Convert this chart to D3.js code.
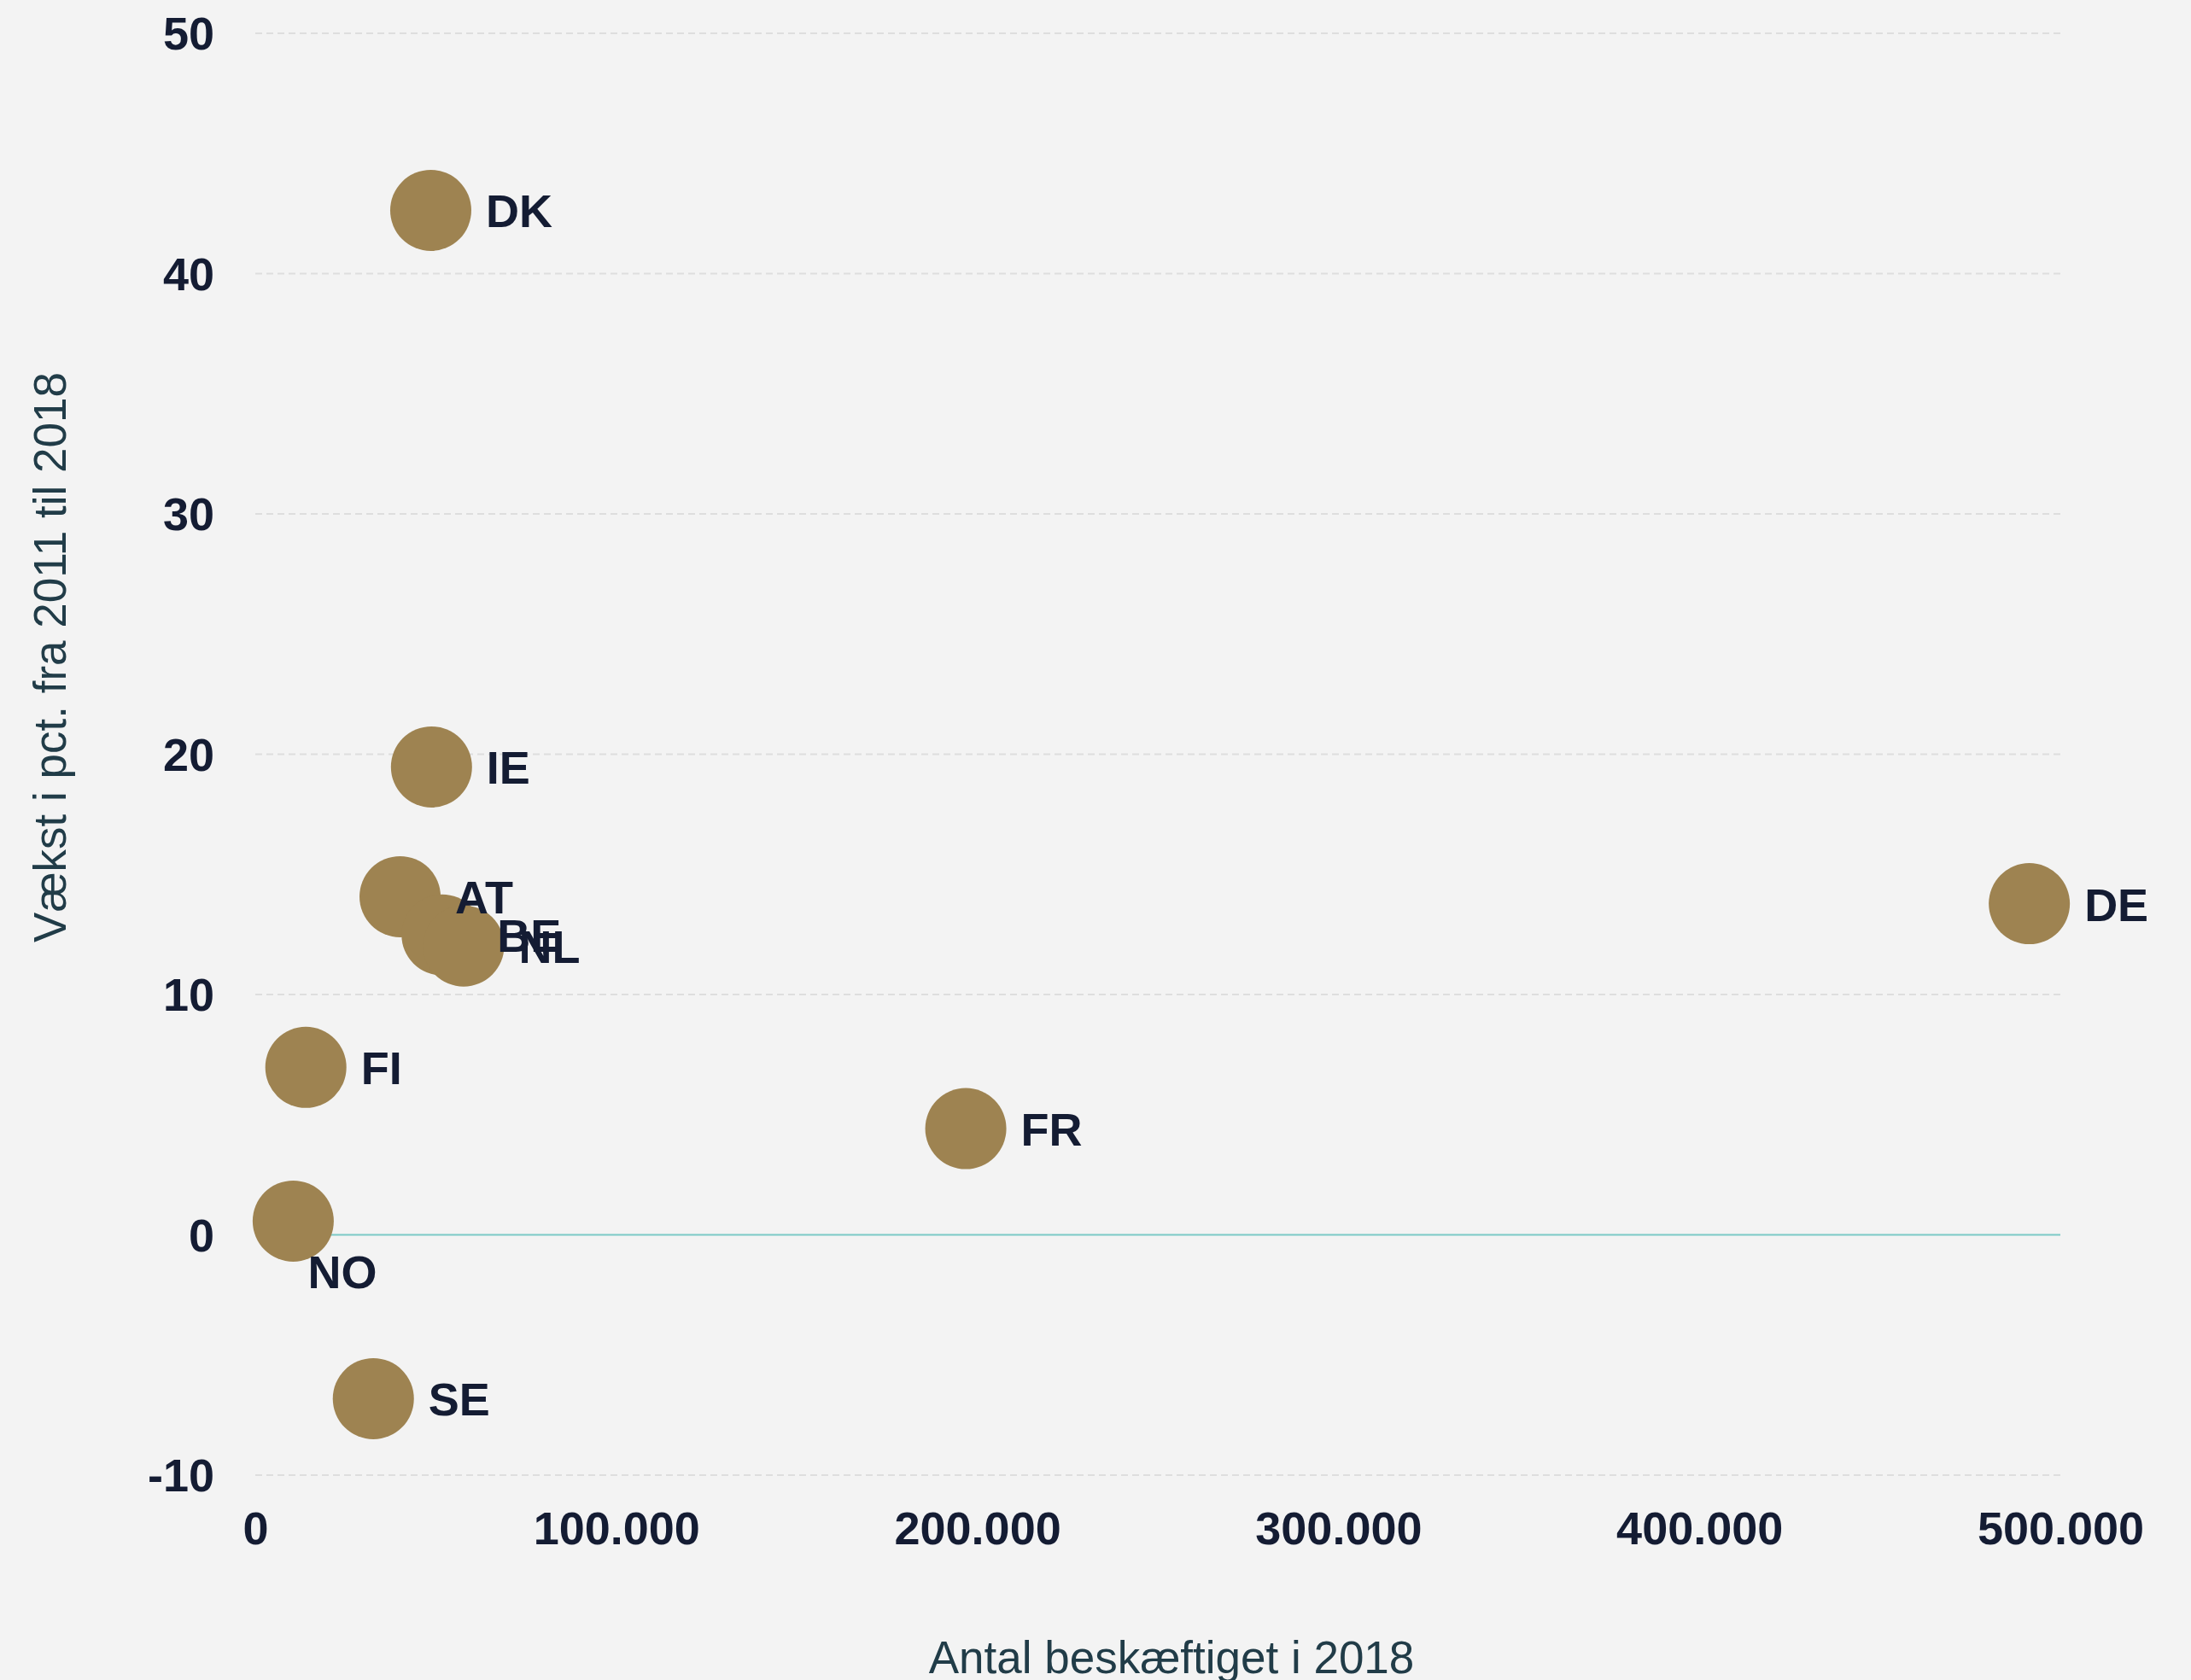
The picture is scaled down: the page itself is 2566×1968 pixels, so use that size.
<!DOCTYPE html>
<html>
<head>
<meta charset="utf-8">
<script src="https://cdn.jsdelivr.net/npm/d3@7"></script>
<style>
  html, body { margin: 0; padding: 0; background: #f3f3f3; }
  svg { display: block; }
</style>
</head>
<body>
<script>
// ---- data ----
const countries = ["DK", "IE", "AT", "BE", "NL", "FI", "NO", "SE", "FR", "DE"];
const employed  = [48600, 48800, 40100, 51750, 57700, 14000, 10500, 32700, 196800, 491400];
const growth    = [42.63, 19.47, 14.07, 12.48, 12.02, 6.97, 0.57, -6.82, 4.42, 13.78];
const xTicks = [0, 100000, 200000, 300000, 400000, 500000];
const yTicks = [-10, 0, 10, 20, 30, 40, 50];
const xTitle = "Antal beskæftiget i 2018";
const yTitle = "Vækst i pct. fra 2011 til 2018";
const belowLabels = ["NO"];

// ---- chart ----
const W = 2566, H = 1968;
const svg = d3.select("body").append("svg").attr("width", W).attr("height", H);
svg.append("rect").attr("width", W).attr("height", H).attr("fill", "#f3f3f3");

const x = d3.scaleLinear().domain([0, 500000]).range([299, 2413]);
const y = d3.scaleLinear().domain([-10, 50]).range([1728, 39]);

const da = d3.formatLocale({decimal: ",", thousands: ".", grouping: [3], currency: ["", ""], minus: "-"});
const fmtX = da.format(",d");
const fmtY = da.format("d");

const textColor = "#141c33";
const bold = "'Liberation Sans', Arial, Helvetica, sans-serif";

// gridlines
svg.append("g").selectAll("line").data(yTicks.filter(d => d !== 0)).join("line")
  .attr("x1", x(0)).attr("x2", x(500000))
  .attr("y1", d => y(d)).attr("y2", d => y(d))
  .attr("stroke", "#dedede").attr("stroke-width", 2).attr("stroke-dasharray", "8,5");

// zero line
svg.append("line")
  .attr("x1", x(0)).attr("x2", x(500000))
  .attr("y1", y(0)).attr("y2", y(0))
  .attr("stroke", "#7ccac6").attr("stroke-width", 2);

// y axis
const yAxis = d3.axisLeft(y).tickValues(yTicks).tickSize(0).tickPadding(0).tickFormat(fmtY);
const gy = svg.append("g").attr("transform", "translate(251,0)").call(yAxis);
gy.select(".domain").remove();
gy.selectAll("text")
  .attr("font-family", bold).attr("font-weight", "bold").attr("font-size", 54)
  .attr("fill", textColor).attr("dy", "0.35em");

// x axis
const xAxis = d3.axisBottom(x).tickValues(xTicks).tickSize(0).tickPadding(0).tickFormat(fmtX);
const gx = svg.append("g").attr("transform", "translate(0,1770)").call(xAxis);
gx.select(".domain").remove();
gx.selectAll("text")
  .attr("font-family", bold).attr("font-weight", "bold").attr("font-size", 54)
  .attr("fill", textColor).attr("dy", "0.72em");

// points
const data = countries.map((c, i) => ({c, x: employed[i], y: growth[i]}));
const r = 47.5;
svg.append("g").selectAll("circle").data(data).join("circle")
  .attr("cx", d => x(d.x)).attr("cy", d => y(d.y)).attr("r", r)
  .attr("fill", "#9e8351");

svg.append("g").selectAll("text").data(data).join("text")
  .attr("x", d => belowLabels.includes(d.c) ? x(d.x) + 17 : x(d.x) + r + 17)
  .attr("y", d => belowLabels.includes(d.c) ? y(d.y) + r + 31 : y(d.y) + 20)
  .attr("font-family", bold).attr("font-weight", "bold").attr("font-size", 54)
  .attr("fill", textColor)
  .text(d => d.c);

// axis titles
svg.append("text")
  .attr("x", 1372).attr("y", 1960)
  .attr("text-anchor", "middle")
  .attr("font-family", bold).attr("font-size", 53)
  .attr("fill", "#213c48")
  .text(xTitle);

svg.append("text")
  .attr("transform", "translate(77,770) rotate(-90)")
  .attr("text-anchor", "middle")
  .attr("font-family", bold).attr("font-size", 53)
  .attr("fill", "#213c48")
  .text(yTitle);
</script>
</body>
</html>
